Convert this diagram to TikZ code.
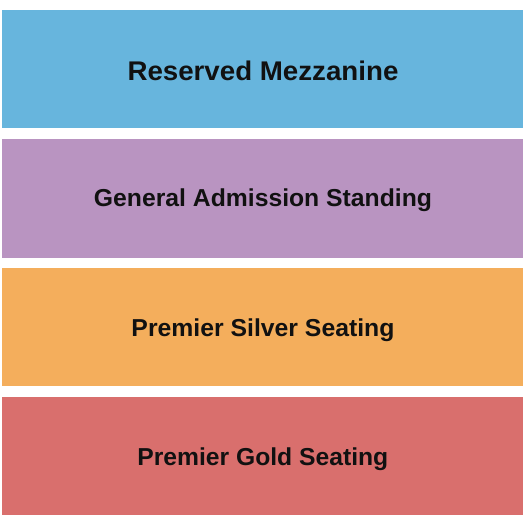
\documentclass[tikz,border=0pt]{standalone}
\usepackage{fontspec}
\setmainfont{Liberation Sans}
\usepackage{graphicx}
\definecolor{cblue}{HTML}{67B5DD}
\definecolor{cpurple}{HTML}{B994C1}
\definecolor{corange}{HTML}{F4AE5C}
\definecolor{cred}{HTML}{D96F6D}
\definecolor{ctext}{HTML}{111111}
\begin{document}
\begin{tikzpicture}[x=1bp,y=-1bp,
  lbl/.style={anchor=base,inner sep=0pt,text=ctext,font=\fontsize{24.5bp}{30bp}\selectfont\bfseries},
  biglbl/.style={lbl,font=\fontsize{27bp}{32bp}\selectfont\bfseries}]
\useasboundingbox[fill=white] (0,0) rectangle (525,525);
\fill[cblue] (2,10) rectangle (523,128.5);
\fill[cpurple] (2,139) rectangle (523,257.5);
\fill[corange] (2,268) rectangle (523,386);
\fill[cred] (2,397) rectangle (523,515);
\node[biglbl] (rm) at (263,80.7) {\resizebox{271bp}{\height}{Reserved Mezzanine}};
\node[lbl] (ga) at (263,206.6) {\resizebox{338bp}{\height}{General Admission Standing}};
\node[lbl] (ps) at (263,336.2) {\resizebox{263bp}{\height}{Premier Silver Seating}};
\node[lbl] (pg) at (262.8,465) {\resizebox{251bp}{\height}{Premier Gold Seating}};
\end{tikzpicture}
\end{document}
